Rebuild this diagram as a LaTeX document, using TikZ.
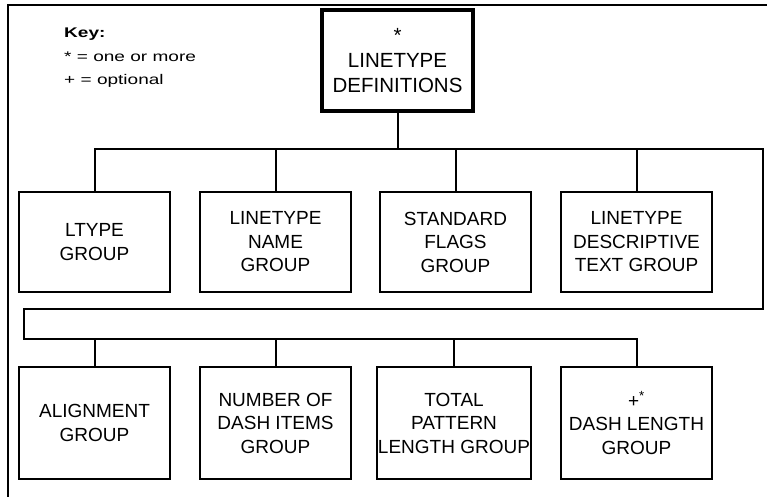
\documentclass[tikz,border=0pt]{standalone}
\usepackage{fontspec}
\setmainfont{Liberation Sans}
\newfontfamily\keyfont[FakeStretch=1.36]{Liberation Sans}
\begin{document}
\begin{tikzpicture}[x=1pt,y=-1pt,
  box/.style={draw, line width=2pt, rectangle, align=center, inner sep=0pt,
    minimum width=151pt, font=\fontsize{19}{23.5}\selectfont},
  rowone/.style={box, minimum height=100pt},
  rowtwo/.style={box, minimum height=112pt},
  topbox/.style={draw, line width=4pt, rectangle, align=center, inner sep=0pt,
    minimum width=151pt, minimum height=101pt, font=\fontsize{20.5}{25}\selectfont},
  conn/.style={line width=2pt},
  frameline/.style={line width=2pt},
  keytext/.style={anchor=base west, inner sep=0pt, font=\keyfont\fontsize{14}{24}\selectfont}]

\useasboundingbox (0,0) rectangle (767,497);

% outer frame (left and top edges only)
\draw[frameline] (8,497) -- (8,5) -- (767,5);

% key
\node[keytext] (keyhead) at (64,37.5) {\bfseries Key:};
\node[keytext] (keyone) at (64,61.7) {* = one or more};
\node[keytext] (keytwo) at (64,85) {+ = optional};

% root
\node[topbox] (top) at (397.5,60.5) {*\\LINETYPE\\DEFINITIONS};

% first row
\node[rowone] (b1) at (94.5,242) {LTYPE\\GROUP};
\node[rowone] (b2) at (275.5,242) {LINETYPE\\NAME\\GROUP};
\node[rowone] (b3) at (455.5,242) {STANDARD\\FLAGS\\GROUP};
\node[rowone] (b4) at (636.5,242) {LINETYPE\\DESCRIPTIVE\\TEXT GROUP};

% second row
\node[rowtwo] (c1) at (94.5,423) {ALIGNMENT\\GROUP};
\node[rowtwo] (c2) at (275.5,423) {NUMBER OF\\DASH ITEMS\\GROUP};
\node[rowtwo, minimum width=154pt] (c3) at (454,423) {TOTAL\\PATTERN\\LENGTH GROUP};
\node[rowtwo] (c4) at (636.5,423) {+\textsuperscript{*}\\DASH LENGTH\\GROUP};

% bus routing
\coordinate (r1) at (763,149);
\coordinate (r2) at (763,309);
\coordinate (l2) at (24,309);
\coordinate (l3) at (24,339);

\draw[conn] (top.south) -- (top.south |- r1);
\draw[conn] (b1.north) |- (r1) -- (r2) -- (l2) -- (l3) -| (c4.north);
\foreach \n in {b2,b3,b4} \draw[conn] (\n.north) -- (\n.north |- r1);
\foreach \n in {c1,c2,c3} \draw[conn] (\n.north) -- (\n.north |- l3);

\end{tikzpicture}
\end{document}
